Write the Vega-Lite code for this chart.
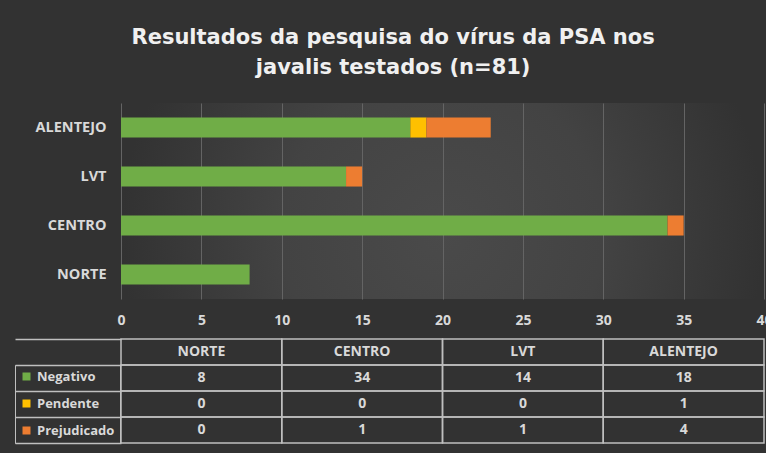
{
  "$schema": "https://vega.github.io/schema/vega-lite/v6.json",
  "autosize": {"type": "pad"},
  "padding": {"left": 14, "top": 27, "right": 0, "bottom": 9},
  "background": "#323232",
  "title": {
    "text": ["Resultados da pesquisa do vírus da PSA nos", "javalis testados (n=81)"],
    "color": "#f0f0f0",
    "font": "DejaVu Sans",
    "fontSize": 21,
    "fontWeight": "bold",
    "anchor": "middle",
    "offset": 25,
    "lineHeight": 30
  },
  "data": {
    "values": [
      {"region": "NORTE", "status": "Negativo", "count": 8},
      {"region": "NORTE", "status": "Pendente", "count": 0},
      {"region": "NORTE", "status": "Prejudicado", "count": 0},
      {"region": "CENTRO", "status": "Negativo", "count": 34},
      {"region": "CENTRO", "status": "Pendente", "count": 0},
      {"region": "CENTRO", "status": "Prejudicado", "count": 1},
      {"region": "LVT", "status": "Negativo", "count": 14},
      {"region": "LVT", "status": "Pendente", "count": 0},
      {"region": "LVT", "status": "Prejudicado", "count": 1},
      {"region": "ALENTEJO", "status": "Negativo", "count": 18},
      {"region": "ALENTEJO", "status": "Pendente", "count": 1},
      {"region": "ALENTEJO", "status": "Prejudicado", "count": 4}
    ]
  },
  "spacing": 40,
  "bounds": "flush",
  "resolve": {"scale": {"x": "independent", "y": "independent", "color": "shared"}},
  "config": {
    "view": {"stroke": null},
    "font": "Open Sans",
    "legend": {
      "orient": "none",
      "legendX": -106,
      "legendY": 262,
      "title": null,
      "symbolType": "square",
      "symbolSize": 64,
      "symbolStrokeWidth": 0,
      "labelFont": "Open Sans",
      "labelFontSize": 13,
      "labelFontWeight": "bold",
      "labelColor": "#d9d9d9",
      "labelOffset": 4,
      "rowPadding": 13,
      "padding": 5,
      "strokeColor": "#bfbfbf"
    }
  },
  "vconcat": [
    {
      "width": 643,
      "height": 196,
      "view": {
        "stroke": null,
        "fill": {
          "gradient": "radial",
          "x1": 0.5, "y1": 0.55, "r1": 0,
          "x2": 0.5, "y2": 0.55, "r2": 0.5,
          "stops": [
            {"offset": 0, "color": "#4a4a4a"},
            {"offset": 0.5, "color": "#434343"},
            {"offset": 1, "color": "#323232"}
          ]
        }
      },
      "mark": {"type": "bar"},
      "encoding": {
        "y": {
          "field": "region",
          "type": "nominal",
          "sort": ["ALENTEJO", "LVT", "CENTRO", "NORTE"],
          "scale": {"paddingInner": 0.59, "paddingOuter": 0.295},
          "axis": {
            "title": null,
            "domain": false,
            "ticks": false,
            "grid": false,
            "labelPadding": 15,
            "labelFont": "Open Sans",
            "labelFontWeight": "bold",
            "labelFontSize": 14.5,
            "labelColor": "#d9d9d9"
          }
        },
        "x": {
          "field": "count",
          "type": "quantitative",
          "stack": "zero",
          "scale": {"domain": [0, 40], "nice": false},
          "axis": {
            "title": null,
            "values": [0, 5, 10, 15, 20, 25, 30, 35, 40],
            "grid": true,
            "gridColor": "#646464",
            "gridWidth": 1,
            "domain": false,
            "ticks": false,
            "labelPadding": 14,
            "labelFont": "Open Sans",
            "labelFontWeight": "bold",
            "labelFontSize": 14,
            "labelColor": "#d9d9d9",
            "labelFlush": false
          }
        },
        "color": {
          "field": "status",
          "type": "nominal",
          "scale": {
            "domain": ["Negativo", "Pendente", "Prejudicado"],
            "range": ["#70ad47", "#ffc000", "#ed7d31"]
          }
        }
      }
    },
    {
      "width": 643,
      "height": 104,
      "encoding": {
        "x": {
          "field": "region",
          "type": "nominal",
          "sort": ["NORTE", "CENTRO", "LVT", "ALENTEJO"],
          "scale": {"paddingInner": 0, "paddingOuter": 0},
          "axis": null
        }
      },
      "layer": [
        {
          "mark": {"type": "rect", "fillOpacity": 0, "stroke": "#bfbfbf", "strokeWidth": 1.5},
          "encoding": {
            "y": {
              "field": "status",
              "type": "nominal",
              "scale": {"domain": ["_h", "Negativo", "Pendente", "Prejudicado"], "paddingInner": 0, "paddingOuter": 0},
              "axis": {
                "title": null,
                "labels": false,
                "domain": false,
                "ticks": true,
                "tickBand": "extent",
                "tickSize": 106,
                "tickWidth": 1.5,
                "tickColor": "#bfbfbf"
              }
            }
          }
        },
        {
          "transform": [{"filter": "datum.status == 'Negativo'"}],
          "mark": {"type": "rect", "fillOpacity": 0, "stroke": "#bfbfbf", "strokeWidth": 1.5},
          "encoding": {"y": {"datum": "_h", "type": "nominal"}}
        },
        {
          "mark": {"type": "text", "font": "Open Sans", "fontSize": 14, "fontWeight": "bold", "color": "#d9d9d9"},
          "encoding": {
            "y": {"field": "status", "type": "nominal"},
            "text": {"field": "count", "type": "quantitative"}
          }
        },
        {
          "transform": [{"filter": "datum.status == 'Negativo'"}],
          "mark": {"type": "text", "font": "Open Sans", "fontSize": 14, "fontWeight": "bold", "color": "#d9d9d9"},
          "encoding": {
            "y": {"datum": "_h", "type": "nominal"},
            "text": {"field": "region", "type": "nominal"}
          }
        }
      ]
    }
  ]
}
